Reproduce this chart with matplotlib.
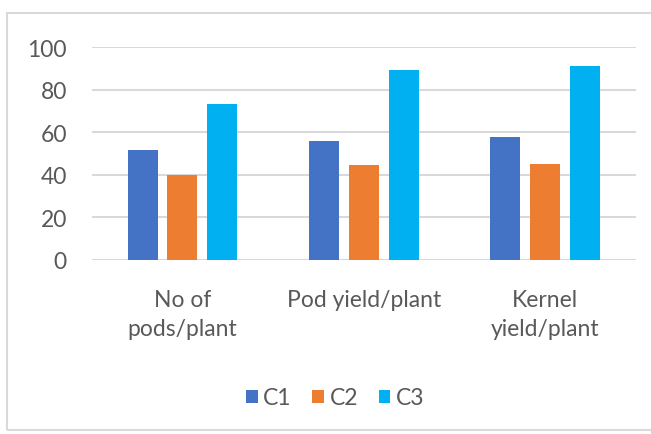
import matplotlib.pyplot as plt
import numpy as np
from matplotlib.patches import Rectangle

categories = ['No of\npods/plant', 'Pod yield/plant', 'Kernel\nyield/plant']
series = ['C1', 'C2', 'C3']
c1 = [51.6, 55.7, 57.9]
c2 = [39.7, 44.4, 45.2]
c3 = [73.3, 89.2, 91.2]
colors = ['#4472C4', '#ED7D31', '#00B0F0']

plt.rcParams['font.family'] = ['Lato', 'DejaVu Sans']

fig = plt.figure(figsize=(6.51, 4.35), dpi=100)
ax = fig.add_axes([0.141, 0.4007, 0.8355, 0.4883])

x = np.arange(len(categories))
width = 0.165
step = 0.22
for i, (name, vals) in enumerate(zip(series, [c1, c2, c3])):
    ax.bar(x + (i - 1) * step, vals, width, color=colors[i], label=name, zorder=3)

ax.set_xlim(-0.5, 2.5)
ax.set_ylim(0, 100)
ax.set_yticks(range(0, 101, 20))
ax.yaxis.grid(True, color='#d9d9d9', linewidth=1.5, zorder=0)
for s in ax.spines.values():
    s.set_visible(False)
ax.tick_params(axis='both', length=0, colors='#595959', labelsize=16.5)
ax.tick_params(axis='y', pad=18)
ax.tick_params(axis='x', pad=21)
ax.set_xticks(x)
ax.set_xticklabels(categories, linespacing=1.5)

fig.legend(loc='center', bbox_to_anchor=(0.515, 0.083), ncol=3, frameon=False,
           fontsize=16.5, labelcolor='#595959', handlelength=0.5, handleheight=0.5,
           handletextpad=0.25, columnspacing=0.9)

# light frame around the chart area
fig.add_artist(Rectangle((7 / 651, 4 / 435), 1.0, 1 - 18 / 435, transform=fig.transFigure,
                         fill=False, edgecolor='#d9d9d9', linewidth=1.5))

fig.savefig('out.png', dpi=100)
